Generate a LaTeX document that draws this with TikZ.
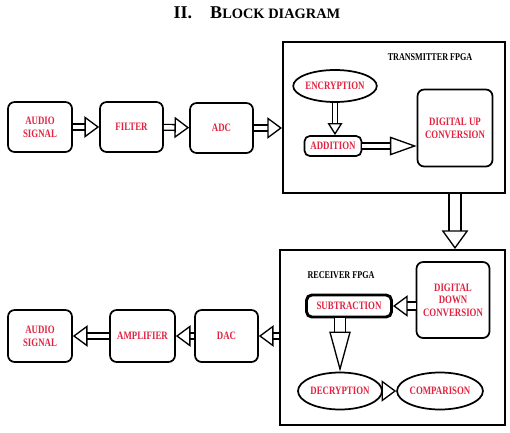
\documentclass[tikz,border=0pt]{standalone}
\usepackage{fontspec}
\setmainfont{Liberation Serif}
\newfontfamily\narrowfont[FakeStretch=0.78]{Liberation Serif}
\usetikzlibrary{arrows.meta,shapes.geometric}
\definecolor{lblred}{RGB}{225,35,65}

\begin{document}
\begin{tikzpicture}[x=0.75pt, y=-0.75pt,
        block/.style={draw, line width=1.3pt, rounded corners=5pt, fill=white, inner sep=0pt,
            text=lblred, font=\narrowfont\bfseries\fontsize{8.5}{9.5}\selectfont, align=center},
        oval/.style={block, ellipse, rounded corners=0pt},
        fpga/.style={draw, line width=1.5pt, inner sep=0pt},
        fpgalabel/.style={font=\narrowfont\bfseries\fontsize{7.8}{9}\selectfont},
        flow/.style={double, double distance=3.3pt, line width=1pt,
            -{Triangle[open, length=11pt, width=16pt]}}
    ]
    \useasboundingbox (0,0) rectangle (510,432);
    \node[font=\bfseries\fontsize{13.5}{15}\selectfont] (title) at (257,13)
        {II.\quad B{\fontsize{10.8}{12}\selectfont LOCK DIAGRAM}};

    \node[fpga, minimum width=166.5pt, minimum height=113.25pt] (tx) at (394,117.5) {};
    \node[fpga, minimum width=168.75pt, minimum height=131.25pt] (rx) at (392.5,337.5) {};
    \node[fpgalabel] (txlabel) at (430,57) {TRANSMITTER FPGA};
    \node[fpgalabel] (rxlabel) at (341,275) {RECEIVER FPGA};

    \node[block, minimum width=48pt,    minimum height=37.5pt] (audioin) at (40,127)    {AUDIO\\SIGNAL};
    \node[block, minimum width=47.25pt, minimum height=37.5pt] (filter)  at (131.5,127) {FILTER};
    \node[block, minimum width=47.25pt, minimum height=37.5pt] (adc)     at (221.5,128) {ADC};

    \node[oval,  minimum width=62.25pt, minimum height=24pt]    (enc) at (335,86)  {ENCRYPTION};
    \node[block, minimum width=42.75pt, minimum height=15pt, rounded corners=4pt] (add) at (333,146) {ADDITION};
    \node[block, minimum width=56.25pt, minimum height=57.75pt] (duc) at (455,128) {DIGITAL UP\\CONVERSION};

    \node[block, minimum width=54.75pt, minimum height=57pt]    (ddc) at (453,300) {DIGITAL\\DOWN\\CONVERSION};
    \node[block, minimum width=63.75pt, minimum height=16.5pt, line width=2.2pt, rounded corners=4pt] (sub) at (349,306) {SUBTRACTION};
    \node[oval,  minimum width=63pt,    minimum height=27.75pt] (dec) at (340,391) {DECRYPTION};
    \node[oval,  minimum width=55.5pt,  minimum height=27.75pt] (cmp) at (440,391) {COMPARISON};

    \node[block, minimum width=47.25pt, minimum height=39pt] (dac)      at (226.5,336) {DAC};
    \node[block, minimum width=48.75pt, minimum height=39pt] (amp)      at (142.5,336) {AMPLIFIER};
    \node[block, minimum width=48pt,    minimum height=39pt] (audioout) at (40,336)    {AUDIO\\SIGNAL};

    \draw[flow] (audioin) -- (filter);
    \draw[flow] (filter) -- (adc);
    \draw[flow] (adc.east) -- (adc.east -| tx.west);
    \draw[flow, double distance=2.6pt, -{Triangle[open, length=9pt, width=11pt]}] (enc.south) -- (enc.south |- add.north);
    \draw[flow, -{Triangle[open, length=20pt, width=14pt]}] (add.east) -- (add.east -| duc.west);
    \draw[flow, double distance=8pt, -{Triangle[open, length=14pt, width=20pt]}] (tx.south -| duc) -- (rx.north -| duc);
    \draw[flow, double distance=5pt] (ddc.west |- sub.east) -- (sub.east);
    \draw[flow, double distance=7pt, -{Triangle[open, length=30pt, width=16pt]}] (sub.south -| dec.north) -- (dec.north);
    \draw[flow] (dec) -- (cmp);
    \draw[flow] (rx.west |- dac.east) -- (dac.east);
    \draw[flow] (dac) -- (amp);
    \draw[flow] (amp) -- (audioout);
\end{tikzpicture}
\end{document}
